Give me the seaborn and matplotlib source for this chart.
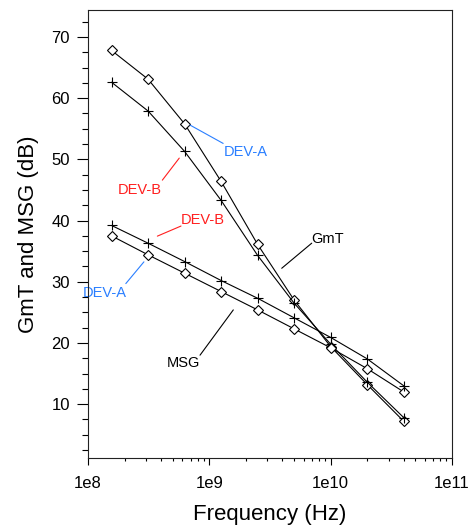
import numpy as np
import pandas as pd
import matplotlib
matplotlib.use("Agg")
import matplotlib.pyplot as plt
import seaborn as sns
from matplotlib.ticker import FixedLocator, FuncFormatter, LogLocator, NullFormatter

# Données
freq = [1.5625e8, 3.125e8, 6.25e8, 1.25e9, 2.5e9, 5e9, 1e10, 2e10, 4e10]
gmt_dev_a = [67.8, 63.1, 55.8, 46.4, 36.1, 27.0, 19.4, 13.2, 7.2]
gmt_dev_b = [62.6, 57.9, 51.3, 43.3, 34.3, 26.5, 19.8, 13.6, 7.8]
msg_dev_a = [37.5, 34.4, 31.4, 28.4, 25.4, 22.3, 19.2, 15.8, 12.0]
msg_dev_b = [39.2, 36.3, 33.3, 30.2, 27.3, 24.1, 20.9, 17.4, 13.0]

series = {
    "GmT DEV-A": (gmt_dev_a, "D"),
    "GmT DEV-B": (gmt_dev_b, "+"),
    "MSG DEV-A": (msg_dev_a, "D"),
    "MSG DEV-B": (msg_dev_b, "+"),
}

sns.set_style("ticks")
plt.rcParams["font.family"] = ["Liberation Sans", "DejaVu Sans"]
plt.rcParams["text.color"] = "black"
plt.rcParams["axes.labelcolor"] = "black"
plt.rcParams["xtick.color"] = "black"
plt.rcParams["ytick.color"] = "black"

fig = plt.figure(figsize=(4.75, 5.27), dpi=100)
ax = fig.add_axes([88 / 475, 1 - 458 / 527, (452 - 88) / 475, (458 - 10) / 527])

for name, (vals, mk) in series.items():
    sns.lineplot(x=freq, y=vals, ax=ax, color="black", linewidth=0.8,
                 marker=mk,
                 markersize=4.6 if mk == "D" else 7,
                 markerfacecolor="white" if mk == "D" else "black",
                 markeredgecolor="black", markeredgewidth=0.8)

ax.set_xscale("log")
ax.set_xlim(1e8, 1e11)
ax.set_ylim(1.2, 74.4)

ax.xaxis.set_major_locator(FixedLocator([1e8, 1e9, 1e10, 1e11]))
ax.xaxis.set_major_formatter(FuncFormatter(lambda v, p: "1e%d" % round(np.log10(v))))
ax.xaxis.set_minor_locator(LogLocator(base=10, subs=np.arange(2, 10)))
ax.xaxis.set_minor_formatter(NullFormatter())
ax.set_yticks([10, 20, 30, 40, 50, 60, 70])
ax.set_yticks(np.arange(2.5, 74, 2.5), minor=True)

ax.tick_params(axis="y", which="major", length=8, width=0.8, pad=5, labelsize=12)
ax.tick_params(axis="y", which="minor", length=4, width=0.8)
ax.tick_params(axis="x", which="major", length=5, width=0.8, pad=8, labelsize=12)
ax.tick_params(axis="x", which="minor", length=2.5, width=0.8)

for s in ax.spines.values():
    s.set_linewidth(0.8)
    s.set_color("#222222")
    s.set_zorder(5)

ax.set_xlabel("Frequency (Hz)", fontsize=16, labelpad=9)
ax.set_ylabel("GmT and MSG (dB)", fontsize=16, labelpad=9)

blue = "#2a7fff"
red = "#ff1f1f"
annots = [
    ("DEV-A", blue, (6.93e8, 55.6), (1.30e9, 52.6), (1.32e9, 51.2), "left"),
    ("DEV-B", red, (5.65e8, 50.2), (4.10e8, 46.6), (2.65e8, 45.0), "center"),
    ("DEV-B", red, (3.73e8, 37.45), (5.84e8, 39.1), (8.87e8, 40.1), "center"),
    ("DEV-A", blue, (2.89e8, 33.25), (2.05e8, 29.7), (1.38e8, 28.2), "center"),
    ("GmT", "black", (3.95e9, 32.2), (6.98e9, 36.3), (9.38e9, 37.0), "center"),
    ("MSG", "black", (1.576e9, 25.4), (8.38e8, 18.0), (6.12e8, 16.65), "center"),
]
for txt, col, p0, p1, pt, ha in annots:
    ax.plot([p0[0], p1[0]], [p0[1], p1[1]], color=col, linewidth=0.8)
    ax.text(pt[0], pt[1], txt, color=col, fontsize=10.5, ha=ha, va="center",
            clip_on=False, zorder=1)

fig.savefig("out.png", dpi=100)
